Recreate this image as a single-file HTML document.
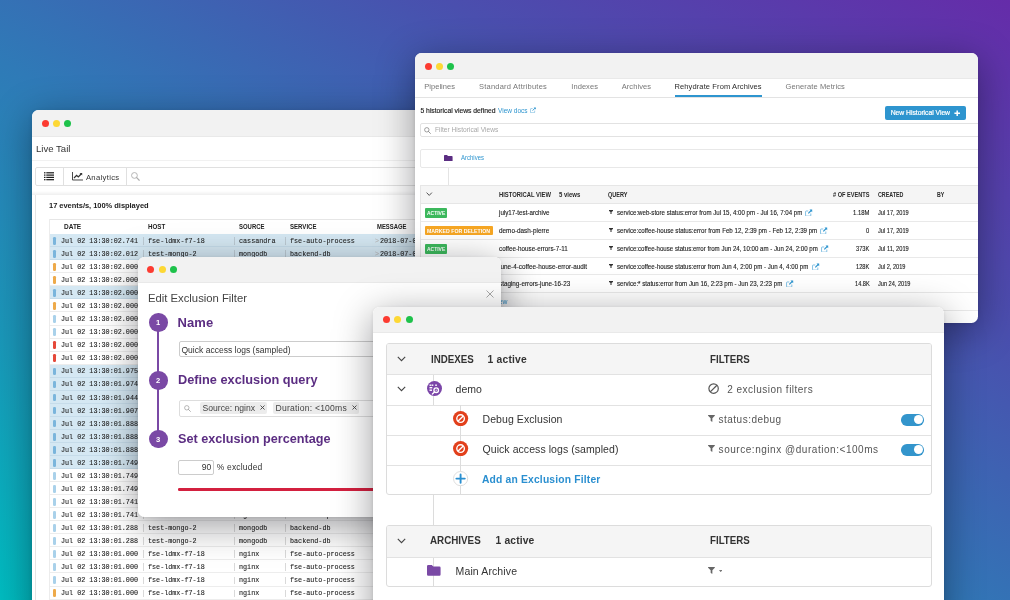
<!DOCTYPE html>
<html>
<head>
<meta charset="utf-8">
<title>Log management</title>
<style>
*{box-sizing:border-box;margin:0;padding:0}
html,body{width:1010px;height:600px;overflow:hidden}
body{font-family:"Liberation Sans",sans-serif;position:relative;
background:linear-gradient(to top right,#00bcc0 0%,#1a97b9 22%,#2f7ab7 45%,#4a4fae 72%,#652ca9 100%);}
.win{position:absolute;background:#fff;border-radius:6.5px;overflow:hidden;will-change:transform}
.sh{position:absolute;border-radius:7px;box-shadow:0 8px 38px rgba(0,0,10,.40),0 1px 4px rgba(0,0,10,.10)}
.tb{position:absolute;left:0;top:0;right:0;background:#f2f2f2;border-bottom:1px solid #e9e9e9}
.dot{position:absolute;width:7px;height:7px;border-radius:50%}
.r{background:#fc3b31}.y{background:#fdd835}.g{background:#1ec24b}
.t{position:absolute;white-space:pre;line-height:1}
.b{font-weight:bold}
.abs{position:absolute}
.mono{font-family:"Liberation Mono",monospace}
</style>
</head>
<body>

<div class="sh" style="left:32px;top:110px;width:560px;height:520px;"></div>
<div class="win" id="w1" style="left:32px;top:110px;width:560px;height:520px">
<div class="tb" style="height:27px"></div>
<div class="dot r" style="left:9.5px;top:10px"></div>
<div class="dot y" style="left:20.9px;top:10px"></div>
<div class="dot g" style="left:32.1px;top:10px"></div>
<span class="t" style="left:3.6px;top:33.7px;font-size:9.8px;color:#333;transform:scaleX(0.9768);transform-origin:0 0;">Live Tail</span>
<div class="abs" style="left:0px;top:50px;width:560px;height:1px;background:#f1f1f1"></div>
<div class="abs" style="left:3px;top:57px;width:560px;height:19px;border:1px solid #e0e0e0;border-radius:2px;background:#fff"></div>
<div class="abs" style="left:31px;top:58px;width:1px;height:17px;background:#e0e0e0"></div>
<div class="abs" style="left:94px;top:58px;width:1px;height:17px;background:#e0e0e0"></div>
<svg class="abs" style="left:11.5px;top:62px;" width="10.2" height="8.8" viewBox="0 0 10.2 8.8"><rect x="0" y="0.20000000000000007" width="1.5" height="1.2" fill="#1a1a1a"/><rect x="2.3" y="0.20000000000000007" width="7.9" height="1.2" fill="#1a1a1a"/><rect x="0" y="2.5" width="1.5" height="1.2" fill="#1a1a1a"/><rect x="2.3" y="2.5" width="7.9" height="1.2" fill="#1a1a1a"/><rect x="0" y="4.800000000000001" width="1.5" height="1.2" fill="#1a1a1a"/><rect x="2.3" y="4.800000000000001" width="7.9" height="1.2" fill="#1a1a1a"/><rect x="0" y="7.1000000000000005" width="1.5" height="1.2" fill="#1a1a1a"/><rect x="2.3" y="7.1000000000000005" width="7.9" height="1.2" fill="#1a1a1a"/></svg>
<svg class="abs" style="left:40px;top:62.2px;" width="11.2" height="8.6" viewBox="0 0 11.2 8.6"><path d="M0.5 0 V8 H11" fill="none" stroke="#333" stroke-width="0.9"/><path d="M2 6 L4.6 3.4 L6.3 5 L9.2 2" fill="none" stroke="#333" stroke-width="1.2"/><path d="M7.6 1 H10.2 V3.6 Z" fill="#333"/></svg>
<span class="t" style="left:53.9px;top:64.18px;font-size:7.7px;color:#333;letter-spacing:0.315px;">Analytics</span>
<svg class="abs" style="left:99.2px;top:62.4px;" width="8.9" height="8.9" viewBox="0 0 8 8"><circle cx="3.1" cy="3.1" r="2.6" fill="none" stroke="#adadad" stroke-width="0.8"/><path d="M5.1 5.1 L7.4 7.4" stroke="#adadad" stroke-width="1.1" stroke-linecap="round"/></svg>
<div class="abs" style="left:0px;top:81px;width:560px;height:4px;background:linear-gradient(to bottom,#fff,#efefef)"></div>
<div class="abs" style="left:3px;top:85px;width:1px;height:420px;background:#e4e4e4"></div>
<span class="t b" style="left:17px;top:92.25px;font-size:7.5px;color:#222;letter-spacing:-0.033px;">17 events/s, 100% displayed</span>
<div class="abs" style="left:17px;top:109px;width:560px;height:1px;background:#e6e6e6"></div>
<div class="abs" style="left:17px;top:109px;width:1px;height:400px;background:#ececec"></div>
<span class="t b" style="left:32.4px;top:113.53px;font-size:6.7px;color:#222;transform:scaleX(0.9707);transform-origin:0 0;">DATE</span>
<span class="t b" style="left:116.4px;top:113.53px;font-size:6.7px;color:#222;transform:scaleX(0.9258);transform-origin:0 0;">HOST</span>
<span class="t b" style="left:207px;top:113.53px;font-size:6.7px;color:#222;transform:scaleX(0.8908);transform-origin:0 0;">SOURCE</span>
<span class="t b" style="left:257.5px;top:113.53px;font-size:6.7px;color:#222;transform:scaleX(0.906);transform-origin:0 0;">SERVICE</span>
<span class="t b" style="left:344.5px;top:113.53px;font-size:6.7px;color:#222;transform:scaleX(0.8818);transform-origin:0 0;">MESSAGE</span>
<div class="abs" style="left:18px;top:124.2px;width:560px;height:13px;background:#d5e8f3;border-bottom:1px solid #c6dcea"></div>
<div class="abs" style="left:21.2px;top:127px;width:2.7px;height:7.8px;background:#7ab5dc;border-radius:1.3px"></div>
<span class="t mono" style="left:29px;top:127.61px;font-size:6.9px;color:#222;transform:scaleX(0.98);transform-origin:0 0;-webkit-text-stroke:0.1px #222;">Jul 02 13:30:02.741</span>
<div class="abs" style="left:111px;top:127.2px;width:0.8px;height:7.5px;background:#bccad3"></div>
<div class="abs" style="left:201.7px;top:127.2px;width:0.8px;height:7.5px;background:#bccad3"></div>
<div class="abs" style="left:252.5px;top:127.2px;width:0.8px;height:7.5px;background:#bccad3"></div>
<span class="t mono" style="left:116.4px;top:127.61px;font-size:6.9px;color:#222;transform:scaleX(0.9799);transform-origin:0 0;-webkit-text-stroke:0.1px #222;">fse-ldmx-f7-18</span>
<span class="t mono" style="left:207px;top:127.61px;font-size:6.9px;color:#222;transform:scaleX(0.9801);transform-origin:0 0;-webkit-text-stroke:0.1px #222;">cassandra</span>
<span class="t mono" style="left:257.5px;top:127.61px;font-size:6.9px;color:#222;transform:scaleX(0.98);transform-origin:0 0;-webkit-text-stroke:0.1px #222;">fse-auto-process</span>
<span class="t mono" style="left:343.2px;top:127.61px;font-size:6.9px;color:#b8b8b8;transform:scaleX(0.9788);transform-origin:0 0;-webkit-text-stroke:0.1px #b8b8b8;">&gt;</span>
<span class="t mono" style="left:348.4px;top:127.61px;font-size:6.9px;color:#222;transform:scaleX(0.9799);transform-origin:0 0;-webkit-text-stroke:0.1px #222;">2018-07-02</span>
<div class="abs" style="left:18px;top:137.25px;width:560px;height:13px;background:#d5e8f3;border-bottom:1px solid #c6dcea"></div>
<div class="abs" style="left:21.2px;top:140.05px;width:2.7px;height:7.8px;background:#7ab5dc;border-radius:1.3px"></div>
<span class="t mono" style="left:29px;top:140.66px;font-size:6.9px;color:#222;transform:scaleX(0.98);transform-origin:0 0;-webkit-text-stroke:0.1px #222;">Jul 02 13:30:02.012</span>
<div class="abs" style="left:111px;top:140.25px;width:0.8px;height:7.5px;background:#bccad3"></div>
<div class="abs" style="left:201.7px;top:140.25px;width:0.8px;height:7.5px;background:#bccad3"></div>
<div class="abs" style="left:252.5px;top:140.25px;width:0.8px;height:7.5px;background:#bccad3"></div>
<span class="t mono" style="left:116.4px;top:140.66px;font-size:6.9px;color:#222;transform:scaleX(0.9801);transform-origin:0 0;-webkit-text-stroke:0.1px #222;">test-mongo-2</span>
<span class="t mono" style="left:207px;top:140.66px;font-size:6.9px;color:#222;transform:scaleX(0.9799);transform-origin:0 0;-webkit-text-stroke:0.1px #222;">mongodb</span>
<span class="t mono" style="left:257.5px;top:140.66px;font-size:6.9px;color:#222;transform:scaleX(0.9799);transform-origin:0 0;-webkit-text-stroke:0.1px #222;">backend-db</span>
<span class="t mono" style="left:343.2px;top:140.66px;font-size:6.9px;color:#b8b8b8;transform:scaleX(0.9788);transform-origin:0 0;-webkit-text-stroke:0.1px #b8b8b8;">&gt;</span>
<span class="t mono" style="left:348.4px;top:140.66px;font-size:6.9px;color:#222;transform:scaleX(0.9799);transform-origin:0 0;-webkit-text-stroke:0.1px #222;">2018-07-02</span>
<div class="abs" style="left:18px;top:162.3px;width:560px;height:1px;background:#ededed"></div>
<div class="abs" style="left:21.2px;top:153.1px;width:2.7px;height:7.8px;background:#eeaa4a;border-radius:1.3px"></div>
<span class="t mono" style="left:29px;top:153.71px;font-size:6.9px;color:#222;transform:scaleX(0.98);transform-origin:0 0;-webkit-text-stroke:0.1px #222;">Jul 02 13:30:02.000</span>
<div class="abs" style="left:111px;top:153.3px;width:0.8px;height:7.5px;background:#d9d9d9"></div>
<div class="abs" style="left:201.7px;top:153.3px;width:0.8px;height:7.5px;background:#d9d9d9"></div>
<div class="abs" style="left:252.5px;top:153.3px;width:0.8px;height:7.5px;background:#d9d9d9"></div>
<span class="t mono" style="left:116.4px;top:153.71px;font-size:6.9px;color:#222;transform:scaleX(0.9799);transform-origin:0 0;-webkit-text-stroke:0.1px #222;">fse-ldmx-f7-18</span>
<span class="t mono" style="left:207px;top:153.71px;font-size:6.9px;color:#222;transform:scaleX(0.9796);transform-origin:0 0;-webkit-text-stroke:0.1px #222;">nginx</span>
<span class="t mono" style="left:257.5px;top:153.71px;font-size:6.9px;color:#222;transform:scaleX(0.98);transform-origin:0 0;-webkit-text-stroke:0.1px #222;">fse-auto-process</span>
<span class="t mono" style="left:343.2px;top:153.71px;font-size:6.9px;color:#b8b8b8;transform:scaleX(0.9788);transform-origin:0 0;-webkit-text-stroke:0.1px #b8b8b8;">&gt;</span>
<span class="t mono" style="left:348.4px;top:153.71px;font-size:6.9px;color:#222;transform:scaleX(0.9799);transform-origin:0 0;-webkit-text-stroke:0.1px #222;">2018-07-02</span>
<div class="abs" style="left:18px;top:175.35px;width:560px;height:1px;background:#ededed"></div>
<div class="abs" style="left:21.2px;top:166.15px;width:2.7px;height:7.8px;background:#eeaa4a;border-radius:1.3px"></div>
<span class="t mono" style="left:29px;top:166.76px;font-size:6.9px;color:#222;transform:scaleX(0.98);transform-origin:0 0;-webkit-text-stroke:0.1px #222;">Jul 02 13:30:02.000</span>
<div class="abs" style="left:111px;top:166.35px;width:0.8px;height:7.5px;background:#d9d9d9"></div>
<div class="abs" style="left:201.7px;top:166.35px;width:0.8px;height:7.5px;background:#d9d9d9"></div>
<div class="abs" style="left:252.5px;top:166.35px;width:0.8px;height:7.5px;background:#d9d9d9"></div>
<span class="t mono" style="left:116.4px;top:166.76px;font-size:6.9px;color:#222;transform:scaleX(0.9799);transform-origin:0 0;-webkit-text-stroke:0.1px #222;">fse-ldmx-f7-18</span>
<span class="t mono" style="left:207px;top:166.76px;font-size:6.9px;color:#222;transform:scaleX(0.9796);transform-origin:0 0;-webkit-text-stroke:0.1px #222;">nginx</span>
<span class="t mono" style="left:257.5px;top:166.76px;font-size:6.9px;color:#222;transform:scaleX(0.98);transform-origin:0 0;-webkit-text-stroke:0.1px #222;">fse-auto-process</span>
<div class="abs" style="left:18px;top:176.4px;width:560px;height:13px;background:#d5e8f3;border-bottom:1px solid #c6dcea"></div>
<div class="abs" style="left:21.2px;top:179.2px;width:2.7px;height:7.8px;background:#7ab5dc;border-radius:1.3px"></div>
<span class="t mono" style="left:29px;top:179.81px;font-size:6.9px;color:#222;transform:scaleX(0.98);transform-origin:0 0;-webkit-text-stroke:0.1px #222;">Jul 02 13:30:02.000</span>
<div class="abs" style="left:111px;top:179.4px;width:0.8px;height:7.5px;background:#bccad3"></div>
<div class="abs" style="left:201.7px;top:179.4px;width:0.8px;height:7.5px;background:#bccad3"></div>
<div class="abs" style="left:252.5px;top:179.4px;width:0.8px;height:7.5px;background:#bccad3"></div>
<span class="t mono" style="left:116.4px;top:179.81px;font-size:6.9px;color:#222;transform:scaleX(0.9799);transform-origin:0 0;-webkit-text-stroke:0.1px #222;">fse-ldmx-f7-18</span>
<span class="t mono" style="left:207px;top:179.81px;font-size:6.9px;color:#222;transform:scaleX(0.9796);transform-origin:0 0;-webkit-text-stroke:0.1px #222;">nginx</span>
<span class="t mono" style="left:257.5px;top:179.81px;font-size:6.9px;color:#222;transform:scaleX(0.98);transform-origin:0 0;-webkit-text-stroke:0.1px #222;">fse-auto-process</span>
<div class="abs" style="left:18px;top:201.45px;width:560px;height:1px;background:#ededed"></div>
<div class="abs" style="left:21.2px;top:192.25px;width:2.7px;height:7.8px;background:#eeaa4a;border-radius:1.3px"></div>
<span class="t mono" style="left:29px;top:192.86px;font-size:6.9px;color:#222;transform:scaleX(0.98);transform-origin:0 0;-webkit-text-stroke:0.1px #222;">Jul 02 13:30:02.000</span>
<div class="abs" style="left:111px;top:192.45px;width:0.8px;height:7.5px;background:#d9d9d9"></div>
<div class="abs" style="left:201.7px;top:192.45px;width:0.8px;height:7.5px;background:#d9d9d9"></div>
<div class="abs" style="left:252.5px;top:192.45px;width:0.8px;height:7.5px;background:#d9d9d9"></div>
<span class="t mono" style="left:116.4px;top:192.86px;font-size:6.9px;color:#222;transform:scaleX(0.9799);transform-origin:0 0;-webkit-text-stroke:0.1px #222;">fse-ldmx-f7-18</span>
<span class="t mono" style="left:207px;top:192.86px;font-size:6.9px;color:#222;transform:scaleX(0.9796);transform-origin:0 0;-webkit-text-stroke:0.1px #222;">nginx</span>
<span class="t mono" style="left:257.5px;top:192.86px;font-size:6.9px;color:#222;transform:scaleX(0.98);transform-origin:0 0;-webkit-text-stroke:0.1px #222;">fse-auto-process</span>
<div class="abs" style="left:18px;top:214.5px;width:560px;height:1px;background:#ededed"></div>
<div class="abs" style="left:21.2px;top:205.3px;width:2.7px;height:7.8px;background:#a9d1ea;border-radius:1.3px"></div>
<span class="t mono" style="left:29px;top:205.91px;font-size:6.9px;color:#222;transform:scaleX(0.98);transform-origin:0 0;-webkit-text-stroke:0.1px #222;">Jul 02 13:30:02.000</span>
<div class="abs" style="left:111px;top:205.5px;width:0.8px;height:7.5px;background:#d9d9d9"></div>
<div class="abs" style="left:201.7px;top:205.5px;width:0.8px;height:7.5px;background:#d9d9d9"></div>
<div class="abs" style="left:252.5px;top:205.5px;width:0.8px;height:7.5px;background:#d9d9d9"></div>
<span class="t mono" style="left:116.4px;top:205.91px;font-size:6.9px;color:#222;transform:scaleX(0.9799);transform-origin:0 0;-webkit-text-stroke:0.1px #222;">fse-ldmx-f7-18</span>
<span class="t mono" style="left:207px;top:205.91px;font-size:6.9px;color:#222;transform:scaleX(0.9796);transform-origin:0 0;-webkit-text-stroke:0.1px #222;">nginx</span>
<span class="t mono" style="left:257.5px;top:205.91px;font-size:6.9px;color:#222;transform:scaleX(0.98);transform-origin:0 0;-webkit-text-stroke:0.1px #222;">fse-auto-process</span>
<div class="abs" style="left:18px;top:227.55px;width:560px;height:1px;background:#ededed"></div>
<div class="abs" style="left:21.2px;top:218.35px;width:2.7px;height:7.8px;background:#a9d1ea;border-radius:1.3px"></div>
<span class="t mono" style="left:29px;top:218.96px;font-size:6.9px;color:#222;transform:scaleX(0.98);transform-origin:0 0;-webkit-text-stroke:0.1px #222;">Jul 02 13:30:02.000</span>
<div class="abs" style="left:111px;top:218.55px;width:0.8px;height:7.5px;background:#d9d9d9"></div>
<div class="abs" style="left:201.7px;top:218.55px;width:0.8px;height:7.5px;background:#d9d9d9"></div>
<div class="abs" style="left:252.5px;top:218.55px;width:0.8px;height:7.5px;background:#d9d9d9"></div>
<span class="t mono" style="left:116.4px;top:218.96px;font-size:6.9px;color:#222;transform:scaleX(0.9799);transform-origin:0 0;-webkit-text-stroke:0.1px #222;">fse-ldmx-f7-18</span>
<span class="t mono" style="left:207px;top:218.96px;font-size:6.9px;color:#222;transform:scaleX(0.9796);transform-origin:0 0;-webkit-text-stroke:0.1px #222;">nginx</span>
<span class="t mono" style="left:257.5px;top:218.96px;font-size:6.9px;color:#222;transform:scaleX(0.98);transform-origin:0 0;-webkit-text-stroke:0.1px #222;">fse-auto-process</span>
<div class="abs" style="left:18px;top:240.6px;width:560px;height:1px;background:#ededed"></div>
<div class="abs" style="left:21.2px;top:231.4px;width:2.7px;height:7.8px;background:#e5493a;border-radius:1.3px"></div>
<span class="t mono" style="left:29px;top:232.01px;font-size:6.9px;color:#222;transform:scaleX(0.98);transform-origin:0 0;-webkit-text-stroke:0.1px #222;">Jul 02 13:30:02.000</span>
<div class="abs" style="left:111px;top:231.6px;width:0.8px;height:7.5px;background:#d9d9d9"></div>
<div class="abs" style="left:201.7px;top:231.6px;width:0.8px;height:7.5px;background:#d9d9d9"></div>
<div class="abs" style="left:252.5px;top:231.6px;width:0.8px;height:7.5px;background:#d9d9d9"></div>
<span class="t mono" style="left:116.4px;top:232.01px;font-size:6.9px;color:#222;transform:scaleX(0.9799);transform-origin:0 0;-webkit-text-stroke:0.1px #222;">fse-ldmx-f7-18</span>
<span class="t mono" style="left:207px;top:232.01px;font-size:6.9px;color:#222;transform:scaleX(0.9796);transform-origin:0 0;-webkit-text-stroke:0.1px #222;">nginx</span>
<span class="t mono" style="left:257.5px;top:232.01px;font-size:6.9px;color:#222;transform:scaleX(0.98);transform-origin:0 0;-webkit-text-stroke:0.1px #222;">fse-auto-process</span>
<div class="abs" style="left:18px;top:253.65px;width:560px;height:1px;background:#ededed"></div>
<div class="abs" style="left:21.2px;top:244.45px;width:2.7px;height:7.8px;background:#e5493a;border-radius:1.3px"></div>
<span class="t mono" style="left:29px;top:245.06px;font-size:6.9px;color:#222;transform:scaleX(0.98);transform-origin:0 0;-webkit-text-stroke:0.1px #222;">Jul 02 13:30:02.000</span>
<div class="abs" style="left:111px;top:244.65px;width:0.8px;height:7.5px;background:#d9d9d9"></div>
<div class="abs" style="left:201.7px;top:244.65px;width:0.8px;height:7.5px;background:#d9d9d9"></div>
<div class="abs" style="left:252.5px;top:244.65px;width:0.8px;height:7.5px;background:#d9d9d9"></div>
<span class="t mono" style="left:116.4px;top:245.06px;font-size:6.9px;color:#222;transform:scaleX(0.9799);transform-origin:0 0;-webkit-text-stroke:0.1px #222;">fse-ldmx-f7-18</span>
<span class="t mono" style="left:207px;top:245.06px;font-size:6.9px;color:#222;transform:scaleX(0.9796);transform-origin:0 0;-webkit-text-stroke:0.1px #222;">nginx</span>
<span class="t mono" style="left:257.5px;top:245.06px;font-size:6.9px;color:#222;transform:scaleX(0.98);transform-origin:0 0;-webkit-text-stroke:0.1px #222;">fse-auto-process</span>
<div class="abs" style="left:18px;top:254.7px;width:560px;height:13px;background:#d5e8f3;border-bottom:1px solid #c6dcea"></div>
<div class="abs" style="left:21.2px;top:257.5px;width:2.7px;height:7.8px;background:#7ab5dc;border-radius:1.3px"></div>
<span class="t mono" style="left:29px;top:258.11px;font-size:6.9px;color:#222;transform:scaleX(0.98);transform-origin:0 0;-webkit-text-stroke:0.1px #222;">Jul 02 13:30:01.975</span>
<div class="abs" style="left:111px;top:257.7px;width:0.8px;height:7.5px;background:#bccad3"></div>
<div class="abs" style="left:201.7px;top:257.7px;width:0.8px;height:7.5px;background:#bccad3"></div>
<div class="abs" style="left:252.5px;top:257.7px;width:0.8px;height:7.5px;background:#bccad3"></div>
<span class="t mono" style="left:116.4px;top:258.11px;font-size:6.9px;color:#222;transform:scaleX(0.9799);transform-origin:0 0;-webkit-text-stroke:0.1px #222;">fse-ldmx-f7-18</span>
<span class="t mono" style="left:207px;top:258.11px;font-size:6.9px;color:#222;transform:scaleX(0.9796);transform-origin:0 0;-webkit-text-stroke:0.1px #222;">nginx</span>
<span class="t mono" style="left:257.5px;top:258.11px;font-size:6.9px;color:#222;transform:scaleX(0.98);transform-origin:0 0;-webkit-text-stroke:0.1px #222;">fse-auto-process</span>
<div class="abs" style="left:18px;top:267.75px;width:560px;height:13px;background:#d5e8f3;border-bottom:1px solid #c6dcea"></div>
<div class="abs" style="left:21.2px;top:270.55px;width:2.7px;height:7.8px;background:#7ab5dc;border-radius:1.3px"></div>
<span class="t mono" style="left:29px;top:271.16px;font-size:6.9px;color:#222;transform:scaleX(0.98);transform-origin:0 0;-webkit-text-stroke:0.1px #222;">Jul 02 13:30:01.974</span>
<div class="abs" style="left:111px;top:270.75px;width:0.8px;height:7.5px;background:#bccad3"></div>
<div class="abs" style="left:201.7px;top:270.75px;width:0.8px;height:7.5px;background:#bccad3"></div>
<div class="abs" style="left:252.5px;top:270.75px;width:0.8px;height:7.5px;background:#bccad3"></div>
<span class="t mono" style="left:116.4px;top:271.16px;font-size:6.9px;color:#222;transform:scaleX(0.9799);transform-origin:0 0;-webkit-text-stroke:0.1px #222;">fse-ldmx-f7-18</span>
<span class="t mono" style="left:207px;top:271.16px;font-size:6.9px;color:#222;transform:scaleX(0.9796);transform-origin:0 0;-webkit-text-stroke:0.1px #222;">nginx</span>
<span class="t mono" style="left:257.5px;top:271.16px;font-size:6.9px;color:#222;transform:scaleX(0.98);transform-origin:0 0;-webkit-text-stroke:0.1px #222;">fse-auto-process</span>
<div class="abs" style="left:18px;top:280.8px;width:560px;height:13px;background:#d5e8f3;border-bottom:1px solid #c6dcea"></div>
<div class="abs" style="left:21.2px;top:283.6px;width:2.7px;height:7.8px;background:#7ab5dc;border-radius:1.3px"></div>
<span class="t mono" style="left:29px;top:285.21px;font-size:6.9px;color:#222;transform:scaleX(0.98);transform-origin:0 0;-webkit-text-stroke:0.1px #222;">Jul 02 13:30:01.944</span>
<div class="abs" style="left:111px;top:283.8px;width:0.8px;height:7.5px;background:#bccad3"></div>
<div class="abs" style="left:201.7px;top:283.8px;width:0.8px;height:7.5px;background:#bccad3"></div>
<div class="abs" style="left:252.5px;top:283.8px;width:0.8px;height:7.5px;background:#bccad3"></div>
<span class="t mono" style="left:116.4px;top:285.21px;font-size:6.9px;color:#222;transform:scaleX(0.9799);transform-origin:0 0;-webkit-text-stroke:0.1px #222;">fse-ldmx-f7-18</span>
<span class="t mono" style="left:207px;top:285.21px;font-size:6.9px;color:#222;transform:scaleX(0.9796);transform-origin:0 0;-webkit-text-stroke:0.1px #222;">nginx</span>
<span class="t mono" style="left:257.5px;top:285.21px;font-size:6.9px;color:#222;transform:scaleX(0.98);transform-origin:0 0;-webkit-text-stroke:0.1px #222;">fse-auto-process</span>
<div class="abs" style="left:18px;top:293.85px;width:560px;height:13px;background:#d5e8f3;border-bottom:1px solid #c6dcea"></div>
<div class="abs" style="left:21.2px;top:296.65px;width:2.7px;height:7.8px;background:#7ab5dc;border-radius:1.3px"></div>
<span class="t mono" style="left:29px;top:298.26px;font-size:6.9px;color:#222;transform:scaleX(0.98);transform-origin:0 0;-webkit-text-stroke:0.1px #222;">Jul 02 13:30:01.907</span>
<div class="abs" style="left:111px;top:296.85px;width:0.8px;height:7.5px;background:#bccad3"></div>
<div class="abs" style="left:201.7px;top:296.85px;width:0.8px;height:7.5px;background:#bccad3"></div>
<div class="abs" style="left:252.5px;top:296.85px;width:0.8px;height:7.5px;background:#bccad3"></div>
<span class="t mono" style="left:116.4px;top:298.26px;font-size:6.9px;color:#222;transform:scaleX(0.9799);transform-origin:0 0;-webkit-text-stroke:0.1px #222;">fse-ldmx-f7-18</span>
<span class="t mono" style="left:207px;top:298.26px;font-size:6.9px;color:#222;transform:scaleX(0.9796);transform-origin:0 0;-webkit-text-stroke:0.1px #222;">nginx</span>
<span class="t mono" style="left:257.5px;top:298.26px;font-size:6.9px;color:#222;transform:scaleX(0.98);transform-origin:0 0;-webkit-text-stroke:0.1px #222;">fse-auto-process</span>
<div class="abs" style="left:18px;top:306.9px;width:560px;height:13px;background:#d5e8f3;border-bottom:1px solid #c6dcea"></div>
<div class="abs" style="left:21.2px;top:309.7px;width:2.7px;height:7.8px;background:#7ab5dc;border-radius:1.3px"></div>
<span class="t mono" style="left:29px;top:311.31px;font-size:6.9px;color:#222;transform:scaleX(0.98);transform-origin:0 0;-webkit-text-stroke:0.1px #222;">Jul 02 13:30:01.888</span>
<div class="abs" style="left:111px;top:309.9px;width:0.8px;height:7.5px;background:#bccad3"></div>
<div class="abs" style="left:201.7px;top:309.9px;width:0.8px;height:7.5px;background:#bccad3"></div>
<div class="abs" style="left:252.5px;top:309.9px;width:0.8px;height:7.5px;background:#bccad3"></div>
<span class="t mono" style="left:116.4px;top:311.31px;font-size:6.9px;color:#222;transform:scaleX(0.9799);transform-origin:0 0;-webkit-text-stroke:0.1px #222;">fse-ldmx-f7-18</span>
<span class="t mono" style="left:207px;top:311.31px;font-size:6.9px;color:#222;transform:scaleX(0.9796);transform-origin:0 0;-webkit-text-stroke:0.1px #222;">nginx</span>
<span class="t mono" style="left:257.5px;top:311.31px;font-size:6.9px;color:#222;transform:scaleX(0.98);transform-origin:0 0;-webkit-text-stroke:0.1px #222;">fse-auto-process</span>
<div class="abs" style="left:18px;top:319.95px;width:560px;height:13px;background:#d5e8f3;border-bottom:1px solid #c6dcea"></div>
<div class="abs" style="left:21.2px;top:322.75px;width:2.7px;height:7.8px;background:#7ab5dc;border-radius:1.3px"></div>
<span class="t mono" style="left:29px;top:324.36px;font-size:6.9px;color:#222;transform:scaleX(0.98);transform-origin:0 0;-webkit-text-stroke:0.1px #222;">Jul 02 13:30:01.888</span>
<div class="abs" style="left:111px;top:322.95px;width:0.8px;height:7.5px;background:#bccad3"></div>
<div class="abs" style="left:201.7px;top:322.95px;width:0.8px;height:7.5px;background:#bccad3"></div>
<div class="abs" style="left:252.5px;top:322.95px;width:0.8px;height:7.5px;background:#bccad3"></div>
<span class="t mono" style="left:116.4px;top:324.36px;font-size:6.9px;color:#222;transform:scaleX(0.9799);transform-origin:0 0;-webkit-text-stroke:0.1px #222;">fse-ldmx-f7-18</span>
<span class="t mono" style="left:207px;top:324.36px;font-size:6.9px;color:#222;transform:scaleX(0.9796);transform-origin:0 0;-webkit-text-stroke:0.1px #222;">nginx</span>
<span class="t mono" style="left:257.5px;top:324.36px;font-size:6.9px;color:#222;transform:scaleX(0.98);transform-origin:0 0;-webkit-text-stroke:0.1px #222;">fse-auto-process</span>
<div class="abs" style="left:18px;top:333px;width:560px;height:13px;background:#d5e8f3;border-bottom:1px solid #c6dcea"></div>
<div class="abs" style="left:21.2px;top:335.8px;width:2.7px;height:7.8px;background:#7ab5dc;border-radius:1.3px"></div>
<span class="t mono" style="left:29px;top:337.41px;font-size:6.9px;color:#222;transform:scaleX(0.98);transform-origin:0 0;-webkit-text-stroke:0.1px #222;">Jul 02 13:30:01.888</span>
<div class="abs" style="left:111px;top:336px;width:0.8px;height:7.5px;background:#bccad3"></div>
<div class="abs" style="left:201.7px;top:336px;width:0.8px;height:7.5px;background:#bccad3"></div>
<div class="abs" style="left:252.5px;top:336px;width:0.8px;height:7.5px;background:#bccad3"></div>
<span class="t mono" style="left:116.4px;top:337.41px;font-size:6.9px;color:#222;transform:scaleX(0.9799);transform-origin:0 0;-webkit-text-stroke:0.1px #222;">fse-ldmx-f7-18</span>
<span class="t mono" style="left:207px;top:337.41px;font-size:6.9px;color:#222;transform:scaleX(0.9796);transform-origin:0 0;-webkit-text-stroke:0.1px #222;">nginx</span>
<span class="t mono" style="left:257.5px;top:337.41px;font-size:6.9px;color:#222;transform:scaleX(0.98);transform-origin:0 0;-webkit-text-stroke:0.1px #222;">fse-auto-process</span>
<div class="abs" style="left:18px;top:346.05px;width:560px;height:13px;background:#d5e8f3;border-bottom:1px solid #c6dcea"></div>
<div class="abs" style="left:21.2px;top:348.85px;width:2.7px;height:7.8px;background:#7ab5dc;border-radius:1.3px"></div>
<span class="t mono" style="left:29px;top:350.46px;font-size:6.9px;color:#222;transform:scaleX(0.98);transform-origin:0 0;-webkit-text-stroke:0.1px #222;">Jul 02 13:30:01.749</span>
<div class="abs" style="left:111px;top:349.05px;width:0.8px;height:7.5px;background:#bccad3"></div>
<div class="abs" style="left:201.7px;top:349.05px;width:0.8px;height:7.5px;background:#bccad3"></div>
<div class="abs" style="left:252.5px;top:349.05px;width:0.8px;height:7.5px;background:#bccad3"></div>
<span class="t mono" style="left:116.4px;top:350.46px;font-size:6.9px;color:#222;transform:scaleX(0.9799);transform-origin:0 0;-webkit-text-stroke:0.1px #222;">fse-ldmx-f7-18</span>
<span class="t mono" style="left:207px;top:350.46px;font-size:6.9px;color:#222;transform:scaleX(0.9796);transform-origin:0 0;-webkit-text-stroke:0.1px #222;">nginx</span>
<span class="t mono" style="left:257.5px;top:350.46px;font-size:6.9px;color:#222;transform:scaleX(0.98);transform-origin:0 0;-webkit-text-stroke:0.1px #222;">fse-auto-process</span>
<div class="abs" style="left:18px;top:371.1px;width:560px;height:1px;background:#ededed"></div>
<div class="abs" style="left:21.2px;top:361.9px;width:2.7px;height:7.8px;background:#a9d1ea;border-radius:1.3px"></div>
<span class="t mono" style="left:29px;top:362.51px;font-size:6.9px;color:#222;transform:scaleX(0.98);transform-origin:0 0;-webkit-text-stroke:0.1px #222;">Jul 02 13:30:01.749</span>
<div class="abs" style="left:111px;top:362.1px;width:0.8px;height:7.5px;background:#d9d9d9"></div>
<div class="abs" style="left:201.7px;top:362.1px;width:0.8px;height:7.5px;background:#d9d9d9"></div>
<div class="abs" style="left:252.5px;top:362.1px;width:0.8px;height:7.5px;background:#d9d9d9"></div>
<span class="t mono" style="left:116.4px;top:362.51px;font-size:6.9px;color:#222;transform:scaleX(0.9799);transform-origin:0 0;-webkit-text-stroke:0.1px #222;">fse-ldmx-f7-18</span>
<span class="t mono" style="left:207px;top:362.51px;font-size:6.9px;color:#222;transform:scaleX(0.9796);transform-origin:0 0;-webkit-text-stroke:0.1px #222;">nginx</span>
<span class="t mono" style="left:257.5px;top:362.51px;font-size:6.9px;color:#222;transform:scaleX(0.98);transform-origin:0 0;-webkit-text-stroke:0.1px #222;">fse-auto-process</span>
<div class="abs" style="left:18px;top:384.15px;width:560px;height:1px;background:#ededed"></div>
<div class="abs" style="left:21.2px;top:374.95px;width:2.7px;height:7.8px;background:#a9d1ea;border-radius:1.3px"></div>
<span class="t mono" style="left:29px;top:375.56px;font-size:6.9px;color:#222;transform:scaleX(0.98);transform-origin:0 0;-webkit-text-stroke:0.1px #222;">Jul 02 13:30:01.749</span>
<div class="abs" style="left:111px;top:375.15px;width:0.8px;height:7.5px;background:#d9d9d9"></div>
<div class="abs" style="left:201.7px;top:375.15px;width:0.8px;height:7.5px;background:#d9d9d9"></div>
<div class="abs" style="left:252.5px;top:375.15px;width:0.8px;height:7.5px;background:#d9d9d9"></div>
<span class="t mono" style="left:116.4px;top:375.56px;font-size:6.9px;color:#222;transform:scaleX(0.9799);transform-origin:0 0;-webkit-text-stroke:0.1px #222;">fse-ldmx-f7-18</span>
<span class="t mono" style="left:207px;top:375.56px;font-size:6.9px;color:#222;transform:scaleX(0.9796);transform-origin:0 0;-webkit-text-stroke:0.1px #222;">nginx</span>
<span class="t mono" style="left:257.5px;top:375.56px;font-size:6.9px;color:#222;transform:scaleX(0.98);transform-origin:0 0;-webkit-text-stroke:0.1px #222;">fse-auto-process</span>
<div class="abs" style="left:18px;top:397.2px;width:560px;height:1px;background:#ededed"></div>
<div class="abs" style="left:21.2px;top:388px;width:2.7px;height:7.8px;background:#a9d1ea;border-radius:1.3px"></div>
<span class="t mono" style="left:29px;top:388.61px;font-size:6.9px;color:#222;transform:scaleX(0.98);transform-origin:0 0;-webkit-text-stroke:0.1px #222;">Jul 02 13:30:01.741</span>
<div class="abs" style="left:111px;top:388.2px;width:0.8px;height:7.5px;background:#d9d9d9"></div>
<div class="abs" style="left:201.7px;top:388.2px;width:0.8px;height:7.5px;background:#d9d9d9"></div>
<div class="abs" style="left:252.5px;top:388.2px;width:0.8px;height:7.5px;background:#d9d9d9"></div>
<span class="t mono" style="left:116.4px;top:388.61px;font-size:6.9px;color:#222;transform:scaleX(0.9799);transform-origin:0 0;-webkit-text-stroke:0.1px #222;">fse-ldmx-f7-18</span>
<span class="t mono" style="left:207px;top:388.61px;font-size:6.9px;color:#222;transform:scaleX(0.9796);transform-origin:0 0;-webkit-text-stroke:0.1px #222;">nginx</span>
<span class="t mono" style="left:257.5px;top:388.61px;font-size:6.9px;color:#222;transform:scaleX(0.98);transform-origin:0 0;-webkit-text-stroke:0.1px #222;">fse-auto-process</span>
<div class="abs" style="left:18px;top:410.25px;width:560px;height:1px;background:#ededed"></div>
<div class="abs" style="left:21.2px;top:401.05px;width:2.7px;height:7.8px;background:#a9d1ea;border-radius:1.3px"></div>
<span class="t mono" style="left:29px;top:401.66px;font-size:6.9px;color:#222;transform:scaleX(0.98);transform-origin:0 0;-webkit-text-stroke:0.1px #222;">Jul 02 13:30:01.741</span>
<div class="abs" style="left:111px;top:401.25px;width:0.8px;height:7.5px;background:#d9d9d9"></div>
<div class="abs" style="left:201.7px;top:401.25px;width:0.8px;height:7.5px;background:#d9d9d9"></div>
<div class="abs" style="left:252.5px;top:401.25px;width:0.8px;height:7.5px;background:#d9d9d9"></div>
<span class="t mono" style="left:116.4px;top:401.66px;font-size:6.9px;color:#222;transform:scaleX(0.9799);transform-origin:0 0;-webkit-text-stroke:0.1px #222;">fse-ldmx-f7-18</span>
<span class="t mono" style="left:207px;top:401.66px;font-size:6.9px;color:#222;transform:scaleX(0.9796);transform-origin:0 0;-webkit-text-stroke:0.1px #222;">nginx</span>
<span class="t mono" style="left:257.5px;top:401.66px;font-size:6.9px;color:#222;transform:scaleX(0.98);transform-origin:0 0;-webkit-text-stroke:0.1px #222;">fse-auto-process</span>
<div class="abs" style="left:18px;top:423.3px;width:560px;height:1px;background:#ededed"></div>
<div class="abs" style="left:21.2px;top:414.1px;width:2.7px;height:7.8px;background:#a9d1ea;border-radius:1.3px"></div>
<span class="t mono" style="left:29px;top:414.71px;font-size:6.9px;color:#222;transform:scaleX(0.98);transform-origin:0 0;-webkit-text-stroke:0.1px #222;">Jul 02 13:30:01.288</span>
<div class="abs" style="left:111px;top:414.3px;width:0.8px;height:7.5px;background:#d9d9d9"></div>
<div class="abs" style="left:201.7px;top:414.3px;width:0.8px;height:7.5px;background:#d9d9d9"></div>
<div class="abs" style="left:252.5px;top:414.3px;width:0.8px;height:7.5px;background:#d9d9d9"></div>
<span class="t mono" style="left:116.4px;top:414.71px;font-size:6.9px;color:#222;transform:scaleX(0.9801);transform-origin:0 0;-webkit-text-stroke:0.1px #222;">test-mongo-2</span>
<span class="t mono" style="left:207px;top:414.71px;font-size:6.9px;color:#222;transform:scaleX(0.9799);transform-origin:0 0;-webkit-text-stroke:0.1px #222;">mongodb</span>
<span class="t mono" style="left:257.5px;top:414.71px;font-size:6.9px;color:#222;transform:scaleX(0.9799);transform-origin:0 0;-webkit-text-stroke:0.1px #222;">backend-db</span>
<div class="abs" style="left:18px;top:436.35px;width:560px;height:1px;background:#ededed"></div>
<div class="abs" style="left:21.2px;top:427.15px;width:2.7px;height:7.8px;background:#a9d1ea;border-radius:1.3px"></div>
<span class="t mono" style="left:29px;top:427.76px;font-size:6.9px;color:#222;transform:scaleX(0.98);transform-origin:0 0;-webkit-text-stroke:0.1px #222;">Jul 02 13:30:01.288</span>
<div class="abs" style="left:111px;top:427.35px;width:0.8px;height:7.5px;background:#d9d9d9"></div>
<div class="abs" style="left:201.7px;top:427.35px;width:0.8px;height:7.5px;background:#d9d9d9"></div>
<div class="abs" style="left:252.5px;top:427.35px;width:0.8px;height:7.5px;background:#d9d9d9"></div>
<span class="t mono" style="left:116.4px;top:427.76px;font-size:6.9px;color:#222;transform:scaleX(0.9801);transform-origin:0 0;-webkit-text-stroke:0.1px #222;">test-mongo-2</span>
<span class="t mono" style="left:207px;top:427.76px;font-size:6.9px;color:#222;transform:scaleX(0.9799);transform-origin:0 0;-webkit-text-stroke:0.1px #222;">mongodb</span>
<span class="t mono" style="left:257.5px;top:427.76px;font-size:6.9px;color:#222;transform:scaleX(0.9799);transform-origin:0 0;-webkit-text-stroke:0.1px #222;">backend-db</span>
<div class="abs" style="left:18px;top:449.4px;width:560px;height:1px;background:#ededed"></div>
<div class="abs" style="left:21.2px;top:440.2px;width:2.7px;height:7.8px;background:#a9d1ea;border-radius:1.3px"></div>
<span class="t mono" style="left:29px;top:440.81px;font-size:6.9px;color:#222;transform:scaleX(0.98);transform-origin:0 0;-webkit-text-stroke:0.1px #222;">Jul 02 13:30:01.000</span>
<div class="abs" style="left:111px;top:440.4px;width:0.8px;height:7.5px;background:#d9d9d9"></div>
<div class="abs" style="left:201.7px;top:440.4px;width:0.8px;height:7.5px;background:#d9d9d9"></div>
<div class="abs" style="left:252.5px;top:440.4px;width:0.8px;height:7.5px;background:#d9d9d9"></div>
<span class="t mono" style="left:116.4px;top:440.81px;font-size:6.9px;color:#222;transform:scaleX(0.9799);transform-origin:0 0;-webkit-text-stroke:0.1px #222;">fse-ldmx-f7-18</span>
<span class="t mono" style="left:207px;top:440.81px;font-size:6.9px;color:#222;transform:scaleX(0.9796);transform-origin:0 0;-webkit-text-stroke:0.1px #222;">nginx</span>
<span class="t mono" style="left:257.5px;top:440.81px;font-size:6.9px;color:#222;transform:scaleX(0.98);transform-origin:0 0;-webkit-text-stroke:0.1px #222;">fse-auto-process</span>
<div class="abs" style="left:18px;top:462.45px;width:560px;height:1px;background:#ededed"></div>
<div class="abs" style="left:21.2px;top:453.25px;width:2.7px;height:7.8px;background:#a9d1ea;border-radius:1.3px"></div>
<span class="t mono" style="left:29px;top:453.86px;font-size:6.9px;color:#222;transform:scaleX(0.98);transform-origin:0 0;-webkit-text-stroke:0.1px #222;">Jul 02 13:30:01.000</span>
<div class="abs" style="left:111px;top:453.45px;width:0.8px;height:7.5px;background:#d9d9d9"></div>
<div class="abs" style="left:201.7px;top:453.45px;width:0.8px;height:7.5px;background:#d9d9d9"></div>
<div class="abs" style="left:252.5px;top:453.45px;width:0.8px;height:7.5px;background:#d9d9d9"></div>
<span class="t mono" style="left:116.4px;top:453.86px;font-size:6.9px;color:#222;transform:scaleX(0.9799);transform-origin:0 0;-webkit-text-stroke:0.1px #222;">fse-ldmx-f7-18</span>
<span class="t mono" style="left:207px;top:453.86px;font-size:6.9px;color:#222;transform:scaleX(0.9796);transform-origin:0 0;-webkit-text-stroke:0.1px #222;">nginx</span>
<span class="t mono" style="left:257.5px;top:453.86px;font-size:6.9px;color:#222;transform:scaleX(0.98);transform-origin:0 0;-webkit-text-stroke:0.1px #222;">fse-auto-process</span>
<div class="abs" style="left:18px;top:475.5px;width:560px;height:1px;background:#ededed"></div>
<div class="abs" style="left:21.2px;top:466.3px;width:2.7px;height:7.8px;background:#a9d1ea;border-radius:1.3px"></div>
<span class="t mono" style="left:29px;top:466.91px;font-size:6.9px;color:#222;transform:scaleX(0.98);transform-origin:0 0;-webkit-text-stroke:0.1px #222;">Jul 02 13:30:01.000</span>
<div class="abs" style="left:111px;top:466.5px;width:0.8px;height:7.5px;background:#d9d9d9"></div>
<div class="abs" style="left:201.7px;top:466.5px;width:0.8px;height:7.5px;background:#d9d9d9"></div>
<div class="abs" style="left:252.5px;top:466.5px;width:0.8px;height:7.5px;background:#d9d9d9"></div>
<span class="t mono" style="left:116.4px;top:466.91px;font-size:6.9px;color:#222;transform:scaleX(0.9799);transform-origin:0 0;-webkit-text-stroke:0.1px #222;">fse-ldmx-f7-18</span>
<span class="t mono" style="left:207px;top:466.91px;font-size:6.9px;color:#222;transform:scaleX(0.9796);transform-origin:0 0;-webkit-text-stroke:0.1px #222;">nginx</span>
<span class="t mono" style="left:257.5px;top:466.91px;font-size:6.9px;color:#222;transform:scaleX(0.98);transform-origin:0 0;-webkit-text-stroke:0.1px #222;">fse-auto-process</span>
<div class="abs" style="left:18px;top:488.55px;width:560px;height:1px;background:#ededed"></div>
<div class="abs" style="left:21.2px;top:479.35px;width:2.7px;height:7.8px;background:#eeaa4a;border-radius:1.3px"></div>
<span class="t mono" style="left:29px;top:479.96px;font-size:6.9px;color:#222;transform:scaleX(0.98);transform-origin:0 0;-webkit-text-stroke:0.1px #222;">Jul 02 13:30:01.000</span>
<div class="abs" style="left:111px;top:479.55px;width:0.8px;height:7.5px;background:#d9d9d9"></div>
<div class="abs" style="left:201.7px;top:479.55px;width:0.8px;height:7.5px;background:#d9d9d9"></div>
<div class="abs" style="left:252.5px;top:479.55px;width:0.8px;height:7.5px;background:#d9d9d9"></div>
<span class="t mono" style="left:116.4px;top:479.96px;font-size:6.9px;color:#222;transform:scaleX(0.9799);transform-origin:0 0;-webkit-text-stroke:0.1px #222;">fse-ldmx-f7-18</span>
<span class="t mono" style="left:207px;top:479.96px;font-size:6.9px;color:#222;transform:scaleX(0.9796);transform-origin:0 0;-webkit-text-stroke:0.1px #222;">nginx</span>
<span class="t mono" style="left:257.5px;top:479.96px;font-size:6.9px;color:#222;transform:scaleX(0.98);transform-origin:0 0;-webkit-text-stroke:0.1px #222;">fse-auto-process</span>
<div class="abs" style="left:18px;top:501.6px;width:560px;height:1px;background:#ededed"></div>
<div class="abs" style="left:21.2px;top:492.4px;width:2.7px;height:7.8px;background:#a9d1ea;border-radius:1.3px"></div>
<span class="t mono" style="left:29px;top:493.01px;font-size:6.9px;color:#222;transform:scaleX(0.98);transform-origin:0 0;-webkit-text-stroke:0.1px #222;">Jul 02 13:30:01.000</span>
<div class="abs" style="left:111px;top:492.6px;width:0.8px;height:7.5px;background:#d9d9d9"></div>
<div class="abs" style="left:201.7px;top:492.6px;width:0.8px;height:7.5px;background:#d9d9d9"></div>
<div class="abs" style="left:252.5px;top:492.6px;width:0.8px;height:7.5px;background:#d9d9d9"></div>
<span class="t mono" style="left:116.4px;top:493.01px;font-size:6.9px;color:#222;transform:scaleX(0.9799);transform-origin:0 0;-webkit-text-stroke:0.1px #222;">fse-ldmx-f7-18</span>
<span class="t mono" style="left:207px;top:493.01px;font-size:6.9px;color:#222;transform:scaleX(0.9796);transform-origin:0 0;-webkit-text-stroke:0.1px #222;">nginx</span>
<span class="t mono" style="left:257.5px;top:493.01px;font-size:6.9px;color:#222;transform:scaleX(0.98);transform-origin:0 0;-webkit-text-stroke:0.1px #222;">fse-auto-process</span>
</div>
<div class="sh" style="left:415px;top:53px;width:563px;height:269.5px;"></div>
<div class="win" id="w2" style="left:415px;top:53px;width:563px;height:269.5px">
<div class="tb" style="height:25.5px"></div>
<div class="dot r" style="left:9.5px;top:9.75px"></div>
<div class="dot y" style="left:20.75px;top:9.75px"></div>
<div class="dot g" style="left:32.25px;top:9.75px"></div>
<span class="t" style="left:9.25px;top:29.95px;font-size:7.5px;color:#777;letter-spacing:0.035px;">Pipelines</span>
<span class="t" style="left:64px;top:29.95px;font-size:7.5px;color:#777;letter-spacing:0.221px;">Standard Attributes</span>
<span class="t" style="left:156.25px;top:29.95px;font-size:7.5px;color:#777;letter-spacing:0.067px;">Indexes</span>
<span class="t" style="left:206.75px;top:29.95px;font-size:7.5px;color:#777;letter-spacing:0.061px;">Archives</span>
<span class="t" style="left:259.5px;top:29.95px;font-size:7.5px;color:#2b2b2b;letter-spacing:0.114px;">Rehydrate From Archives</span>
<span class="t" style="left:370.5px;top:29.95px;font-size:7.5px;color:#777;letter-spacing:0.123px;">Generate Metrics</span>
<div class="abs" style="left:0px;top:44.3px;width:563px;height:1px;background:#e3e3e3"></div>
<div class="abs" style="left:259.5px;top:42.2px;width:87.5px;height:2px;background:#2e95cf"></div>
<span class="t" style="left:5.5px;top:55.24px;font-size:6.8px;color:#1c1c1c;letter-spacing:-0.022px;-webkit-text-stroke:0.15px #1c1c1c;">5 historical views defined</span>
<span class="t" style="left:82.5px;top:55.24px;font-size:6.8px;color:#2e95cf;transform:scaleX(0.9559);transform-origin:0 0;">View docs</span>
<svg class="abs" style="left:115px;top:54px;" width="6.2" height="6.2" viewBox="0 0 7 7"><path d="M5.3 4.1 V5.8 Q5.3 6.5 4.6 6.5 H1.2 Q0.5 6.5 0.5 5.8 V2.5 Q0.5 1.8 1.2 1.8 H3" fill="none" stroke="#2e95cf" stroke-width="0.7" opacity="0.75"/><path d="M4.1 0.45 H6.55 V2.9 Z" fill="#2e95cf"/><path d="M5.9 1.1 L3 4" fill="none" stroke="#2e95cf" stroke-width="1.1"/></svg>
<div class="abs" style="left:470px;top:53px;width:80.75px;height:13.75px;background:#2e95cf;border-radius:2px"></div>
<span class="t" style="left:475.75px;top:56.64px;font-size:6.8px;color:#fff;letter-spacing:-0.036px;-webkit-text-stroke:0.2px #fff;">New Historical View</span>
<svg class="abs" style="left:538.6px;top:56.8px;" width="6.4" height="6.4" viewBox="0 0 6.4 6.4"><path d="M3.2 0.4 V6 M0.4 3.2 H6" stroke="#fff" stroke-width="1.5"/></svg>
<div class="abs" style="left:5px;top:70.25px;width:570px;height:13.5px;border:1px solid #e2e2e2;border-radius:2px"></div>
<svg class="abs" style="left:9.3px;top:73.6px;" width="7" height="7" viewBox="0 0 7 7"><circle cx="2.8" cy="2.8" r="2.2" fill="none" stroke="#888" stroke-width="0.8"/><path d="M4.4 4.4 L6.4 6.4" stroke="#888" stroke-width="0.9" stroke-linecap="round"/></svg>
<span class="t" style="left:20px;top:73.81px;font-size:6.6px;color:#a8a8a8;letter-spacing:0.015px;">Filter Historical Views</span>
<div class="abs" style="left:5px;top:95.75px;width:570px;height:18.75px;border:1px solid #e8e8e8;border-radius:2px"></div>
<svg class="abs" style="left:29.2px;top:101.6px;" width="8.9" height="6.7" viewBox="0 0 8.9 6.7"><path d="M0 0.8 Q0 0 0.8 0 H3 L4 1 H7.8 Q8.6 1 8.6 1.8 V5.8 Q8.6 6.6 7.8 6.6 H0.8 Q0 6.6 0 5.8 Z" fill="#5b2d82"/></svg>
<span class="t" style="left:46.25px;top:102.08px;font-size:6.4px;color:#2e95cf;transform:scaleX(0.9382);transform-origin:0 0;">Archives</span>
<div class="abs" style="left:33px;top:114.5px;width:1px;height:17.5px;background:#e4e4e4"></div>
<div class="abs" style="left:5px;top:132px;width:570px;height:19px;background:#f5f5f5;border:1px solid #e6e6e6;border-right:0"></div>
<svg class="abs" style="left:11px;top:139px;" width="6.5" height="4.5" viewBox="0 0 6.5 4.5"><path d="M0.6 0.6 L3.25 3.4 L5.9 0.6" fill="none" stroke="#444" stroke-width="0.9"/></svg>
<span class="t b" style="left:83.75px;top:138.68px;font-size:6.4px;color:#2a2a2a;transform:scaleX(0.9133);transform-origin:0 0;">HISTORICAL VIEW</span>
<span class="t b" style="left:143.75px;top:138.68px;font-size:6.4px;color:#2a2a2a;transform:scaleX(0.9341);transform-origin:0 0;">5 views</span>
<span class="t b" style="left:192.5px;top:138.68px;font-size:6.4px;color:#2a2a2a;transform:scaleX(0.8667);transform-origin:0 0;">QUERY</span>
<span class="t b" style="left:417.75px;top:138.68px;font-size:6.4px;color:#2a2a2a;transform:scaleX(0.8782);transform-origin:0 0;"># OF EVENTS</span>
<span class="t b" style="left:462.5px;top:138.68px;font-size:6.4px;color:#2a2a2a;transform:scaleX(0.8382);transform-origin:0 0;">CREATED</span>
<span class="t b" style="left:522px;top:138.68px;font-size:6.4px;color:#2a2a2a;transform:scaleX(0.8155);transform-origin:0 0;">BY</span>
<div class="abs" style="left:5px;top:168px;width:570px;height:1px;background:#e9e9e9"></div>
<div class="abs" style="left:9.5px;top:155px;width:22.5px;height:9.5px;background:#3cb85c;border-radius:1px"></div>
<span class="t b" style="left:11.75px;top:158.47px;font-size:5.7px;color:#fff;transform:scaleX(0.8749);transform-origin:0 0;">ACTIVE</span>
<span class="t" style="left:83.75px;top:157.14px;font-size:6.8px;color:#1c1c1c;transform:scaleX(0.9156);transform-origin:0 0;-webkit-text-stroke:0.12px #1c1c1c;">july17-test-archive</span>
<svg class="abs" style="left:193.6px;top:156.9px;" width="4" height="4" viewBox="0 0 6 6"><path d="M0 0 H6 V1.7 H0 Z M1 1.7 L2.2 3 V6.2 H3.8 V3 L5 1.7 Z" fill="#333"/></svg>
<span class="t" style="left:201.75px;top:157.14px;font-size:6.8px;color:#1c1c1c;transform:scaleX(0.9);transform-origin:0 0;-webkit-text-stroke:0.12px #1c1c1c;">service:web-store status:error from Jul 15, 4:00 pm - Jul 16, 7:04 pm</span>
<svg class="abs" style="left:390.1px;top:155.8px;" width="7.7" height="7.7" viewBox="0 0 7 7"><path d="M5.3 4.1 V5.8 Q5.3 6.5 4.6 6.5 H1.2 Q0.5 6.5 0.5 5.8 V2.5 Q0.5 1.8 1.2 1.8 H3" fill="none" stroke="#2e95cf" stroke-width="0.7" opacity="0.75"/><path d="M4.1 0.45 H6.55 V2.9 Z" fill="#2e95cf"/><path d="M5.9 1.1 L3 4" fill="none" stroke="#2e95cf" stroke-width="1.1"/></svg>
<span class="t" style="left:437.75px;top:157.14px;font-size:6.8px;color:#1c1c1c;transform:scaleX(0.8734);transform-origin:0 0;-webkit-text-stroke:0.12px #1c1c1c;">1.18M</span>
<span class="t" style="left:462.5px;top:157.14px;font-size:6.8px;color:#1c1c1c;transform:scaleX(0.83);transform-origin:0 0;-webkit-text-stroke:0.12px #1c1c1c;">Jul 17, 2019</span>
<div class="abs" style="left:5px;top:186px;width:570px;height:1px;background:#e9e9e9"></div>
<div class="abs" style="left:9.5px;top:172.8px;width:68.25px;height:9.6px;background:#f6a623;border-radius:1px"></div>
<span class="t b" style="left:12px;top:176.47px;font-size:5.7px;color:#fff;transform:scaleX(0.9145);transform-origin:0 0;">MARKED FOR DELETION</span>
<span class="t" style="left:83.75px;top:175.14px;font-size:6.8px;color:#1c1c1c;transform:scaleX(0.9365);transform-origin:0 0;-webkit-text-stroke:0.12px #1c1c1c;">demo-dash-pierre</span>
<svg class="abs" style="left:193.6px;top:174.9px;" width="4" height="4" viewBox="0 0 6 6"><path d="M0 0 H6 V1.7 H0 Z M1 1.7 L2.2 3 V6.2 H3.8 V3 L5 1.7 Z" fill="#333"/></svg>
<span class="t" style="left:201.75px;top:175.14px;font-size:6.8px;color:#1c1c1c;transform:scaleX(0.905);transform-origin:0 0;-webkit-text-stroke:0.12px #1c1c1c;">service:coffee-house status:error from Feb 12, 2:39 pm - Feb 12, 2:39 pm</span>
<svg class="abs" style="left:405.1px;top:173.8px;" width="7.7" height="7.7" viewBox="0 0 7 7"><path d="M5.3 4.1 V5.8 Q5.3 6.5 4.6 6.5 H1.2 Q0.5 6.5 0.5 5.8 V2.5 Q0.5 1.8 1.2 1.8 H3" fill="none" stroke="#2e95cf" stroke-width="0.7" opacity="0.75"/><path d="M4.1 0.45 H6.55 V2.9 Z" fill="#2e95cf"/><path d="M5.9 1.1 L3 4" fill="none" stroke="#2e95cf" stroke-width="1.1"/></svg>
<span class="t" style="left:451.05px;top:175.14px;font-size:6.8px;color:#1c1c1c;transform:scaleX(0.8463);transform-origin:0 0;-webkit-text-stroke:0.12px #1c1c1c;">0</span>
<span class="t" style="left:462.5px;top:175.14px;font-size:6.8px;color:#1c1c1c;transform:scaleX(0.83);transform-origin:0 0;-webkit-text-stroke:0.12px #1c1c1c;">Jul 17, 2019</span>
<div class="abs" style="left:5px;top:204px;width:570px;height:1px;background:#e9e9e9"></div>
<div class="abs" style="left:9.5px;top:191px;width:22.5px;height:9.5px;background:#3cb85c;border-radius:1px"></div>
<span class="t b" style="left:11.75px;top:194.47px;font-size:5.7px;color:#fff;transform:scaleX(0.8749);transform-origin:0 0;">ACTIVE</span>
<span class="t" style="left:83.75px;top:193.14px;font-size:6.8px;color:#1c1c1c;transform:scaleX(0.922);transform-origin:0 0;-webkit-text-stroke:0.12px #1c1c1c;">coffee-house-errors-7-11</span>
<svg class="abs" style="left:193.6px;top:192.9px;" width="4" height="4" viewBox="0 0 6 6"><path d="M0 0 H6 V1.7 H0 Z M1 1.7 L2.2 3 V6.2 H3.8 V3 L5 1.7 Z" fill="#333"/></svg>
<span class="t" style="left:201.75px;top:193.14px;font-size:6.8px;color:#1c1c1c;transform:scaleX(0.8981);transform-origin:0 0;-webkit-text-stroke:0.12px #1c1c1c;">service:coffee-house status:error from Jun 24, 10:00 am - Jun 24, 2:00 pm</span>
<svg class="abs" style="left:406.35px;top:191.8px;" width="7.7" height="7.7" viewBox="0 0 7 7"><path d="M5.3 4.1 V5.8 Q5.3 6.5 4.6 6.5 H1.2 Q0.5 6.5 0.5 5.8 V2.5 Q0.5 1.8 1.2 1.8 H3" fill="none" stroke="#2e95cf" stroke-width="0.7" opacity="0.75"/><path d="M4.1 0.45 H6.55 V2.9 Z" fill="#2e95cf"/><path d="M5.9 1.1 L3 4" fill="none" stroke="#2e95cf" stroke-width="1.1"/></svg>
<span class="t" style="left:441px;top:193.14px;font-size:6.8px;color:#1c1c1c;transform:scaleX(0.8346);transform-origin:0 0;-webkit-text-stroke:0.12px #1c1c1c;">373K</span>
<span class="t" style="left:462.5px;top:193.14px;font-size:6.8px;color:#1c1c1c;transform:scaleX(0.8417);transform-origin:0 0;-webkit-text-stroke:0.12px #1c1c1c;">Jul 11, 2019</span>
<div class="abs" style="left:5px;top:221px;width:570px;height:1px;background:#e9e9e9"></div>
<div class="abs" style="left:9.5px;top:209px;width:22.5px;height:9.5px;background:#3cb85c;border-radius:1px"></div>
<span class="t b" style="left:11.75px;top:212.47px;font-size:5.7px;color:#fff;transform:scaleX(0.8749);transform-origin:0 0;">ACTIVE</span>
<span class="t" style="left:83.75px;top:211.14px;font-size:6.8px;color:#1c1c1c;transform:scaleX(0.9366);transform-origin:0 0;-webkit-text-stroke:0.12px #1c1c1c;">june-4-coffee-house-error-audit</span>
<svg class="abs" style="left:193.6px;top:210.9px;" width="4" height="4" viewBox="0 0 6 6"><path d="M0 0 H6 V1.7 H0 Z M1 1.7 L2.2 3 V6.2 H3.8 V3 L5 1.7 Z" fill="#333"/></svg>
<span class="t" style="left:201.75px;top:211.14px;font-size:6.8px;color:#1c1c1c;transform:scaleX(0.9013);transform-origin:0 0;-webkit-text-stroke:0.12px #1c1c1c;">service:coffee-house status:error from Jun 4, 2:00 pm - Jun 4, 4:00 pm</span>
<svg class="abs" style="left:396.85px;top:209.8px;" width="7.7" height="7.7" viewBox="0 0 7 7"><path d="M5.3 4.1 V5.8 Q5.3 6.5 4.6 6.5 H1.2 Q0.5 6.5 0.5 5.8 V2.5 Q0.5 1.8 1.2 1.8 H3" fill="none" stroke="#2e95cf" stroke-width="0.7" opacity="0.75"/><path d="M4.1 0.45 H6.55 V2.9 Z" fill="#2e95cf"/><path d="M5.9 1.1 L3 4" fill="none" stroke="#2e95cf" stroke-width="1.1"/></svg>
<span class="t" style="left:441px;top:211.14px;font-size:6.8px;color:#1c1c1c;transform:scaleX(0.8346);transform-origin:0 0;-webkit-text-stroke:0.12px #1c1c1c;">128K</span>
<span class="t" style="left:462.5px;top:211.14px;font-size:6.8px;color:#1c1c1c;transform:scaleX(0.8267);transform-origin:0 0;-webkit-text-stroke:0.12px #1c1c1c;">Jul 2, 2019</span>
<div class="abs" style="left:5px;top:239px;width:570px;height:1px;background:#e9e9e9"></div>
<div class="abs" style="left:9.5px;top:226px;width:22.5px;height:9.5px;background:#3cb85c;border-radius:1px"></div>
<span class="t b" style="left:11.75px;top:229.47px;font-size:5.7px;color:#fff;transform:scaleX(0.8749);transform-origin:0 0;">ACTIVE</span>
<span class="t" style="left:83.75px;top:228.14px;font-size:6.8px;color:#1c1c1c;transform:scaleX(0.9289);transform-origin:0 0;-webkit-text-stroke:0.12px #1c1c1c;">staging-errors-june-16-23</span>
<svg class="abs" style="left:193.6px;top:227.9px;" width="4" height="4" viewBox="0 0 6 6"><path d="M0 0 H6 V1.7 H0 Z M1 1.7 L2.2 3 V6.2 H3.8 V3 L5 1.7 Z" fill="#333"/></svg>
<span class="t" style="left:201.75px;top:228.14px;font-size:6.8px;color:#1c1c1c;transform:scaleX(0.9019);transform-origin:0 0;-webkit-text-stroke:0.12px #1c1c1c;">service:* status:error from Jun 16, 2:23 pm - Jun 23, 2:23 pm</span>
<svg class="abs" style="left:370.85px;top:226.8px;" width="7.7" height="7.7" viewBox="0 0 7 7"><path d="M5.3 4.1 V5.8 Q5.3 6.5 4.6 6.5 H1.2 Q0.5 6.5 0.5 5.8 V2.5 Q0.5 1.8 1.2 1.8 H3" fill="none" stroke="#2e95cf" stroke-width="0.7" opacity="0.75"/><path d="M4.1 0.45 H6.55 V2.9 Z" fill="#2e95cf"/><path d="M5.9 1.1 L3 4" fill="none" stroke="#2e95cf" stroke-width="1.1"/></svg>
<span class="t" style="left:439.5px;top:228.14px;font-size:6.8px;color:#1c1c1c;transform:scaleX(0.8303);transform-origin:0 0;-webkit-text-stroke:0.12px #1c1c1c;">14.8K</span>
<span class="t" style="left:462.5px;top:228.14px;font-size:6.8px;color:#1c1c1c;transform:scaleX(0.8267);transform-origin:0 0;-webkit-text-stroke:0.12px #1c1c1c;">Jun 24, 2019</span>
<div class="abs" style="left:5px;top:257px;width:570px;height:1px;background:#e9e9e9"></div>
<div class="abs" style="left:5px;top:132.5px;width:1px;height:125px;background:#e6e6e6"></div>
<span class="t" style="left:26.7px;top:246.24px;font-size:6.8px;color:#2e95cf;">+ New Historical View</span>
</div>
<div class="sh" style="left:138px;top:257px;width:363px;height:260px;"></div>
<div class="win" id="w3" style="left:138px;top:257px;width:363px;height:260px">
<div class="tb" style="height:25.5px"></div>
<div class="dot r" style="left:9.25px;top:8.75px"></div>
<div class="dot y" style="left:20.5px;top:8.75px"></div>
<div class="dot g" style="left:32px;top:8.75px"></div>
<span class="t" style="left:10px;top:35.53px;font-size:11.3px;color:#444;letter-spacing:-0.01px;">Edit Exclusion Filter</span>
<svg class="abs" style="left:348px;top:32.75px;" width="8" height="8" viewBox="0 0 8 8"><path d="M0.5 0.5 L7.5 7.5 M7.5 0.5 L0.5 7.5" stroke="#999" stroke-width="0.85"/></svg>
<div class="abs" style="left:19.25px;top:65px;width:2px;height:117px;background:#7a49a5"></div>
<div class="abs" style="left:11px;top:56.15px;width:18.5px;height:18.5px;background:#7a49a5;border-radius:50%"></div>
<span class="t b" style="left:18.12px;top:61.67px;font-size:7.6px;color:#fff;">1</span>
<div class="abs" style="left:11px;top:114.15px;width:18.5px;height:18.5px;background:#7a49a5;border-radius:50%"></div>
<span class="t b" style="left:18.12px;top:119.67px;font-size:7.6px;color:#fff;">2</span>
<div class="abs" style="left:11px;top:172.75px;width:18.5px;height:18.5px;background:#7a49a5;border-radius:50%"></div>
<span class="t b" style="left:18.12px;top:179.27px;font-size:7.6px;color:#fff;">3</span>
<span class="t b" style="left:39.5px;top:59px;font-size:13px;color:#5b2d82;letter-spacing:0.082px;">Name</span>
<div class="abs" style="left:41px;top:84px;width:330px;height:16.3px;border:1px solid #ccc;border-radius:2px;background:#fff"></div>
<span class="t" style="left:43.5px;top:89.4px;font-size:8.5px;color:#333;letter-spacing:0.013px;">Quick access logs (sampled)</span>
<span class="t b" style="left:39.5px;top:116.2px;font-size:13px;color:#5b2d82;transform:scaleX(0.9801);transform-origin:0 0;">Define exclusion query</span>
<div class="abs" style="left:41px;top:142.5px;width:330px;height:17.25px;border:1px solid #ddd;border-radius:2px;background:#fff"></div>
<svg class="abs" style="left:46.2px;top:148px;" width="7" height="7" viewBox="0 0 7 7"><circle cx="2.8" cy="2.8" r="2.2" fill="none" stroke="#999" stroke-width="0.7"/><path d="M4.4 4.4 L6.4 6.4" stroke="#999" stroke-width="0.8" stroke-linecap="round"/></svg>
<div class="abs" style="left:61.5px;top:145px;width:67.25px;height:11.75px;background:#ececec;border-radius:2px"></div>
<span class="t" style="left:64.5px;top:147.32px;font-size:8.6px;color:#444;letter-spacing:-0.005px;">Source: nginx</span>
<svg class="abs" style="left:121.6px;top:148.3px;" width="5" height="5" viewBox="0 0 5 5"><path d="M0.5 0.5 L4.5 4.5 M4.5 0.5 L0.5 4.5" stroke="#444" stroke-width="0.9"/></svg>
<div class="abs" style="left:134.5px;top:145px;width:86.25px;height:11.75px;background:#ececec;border-radius:2px"></div>
<span class="t" style="left:137.5px;top:147.32px;font-size:8.6px;color:#444;letter-spacing:0.214px;">Duration: &lt;100ms</span>
<svg class="abs" style="left:213.7px;top:148.3px;" width="5" height="5" viewBox="0 0 5 5"><path d="M0.5 0.5 L4.5 4.5 M4.5 0.5 L0.5 4.5" stroke="#444" stroke-width="0.9"/></svg>
<span class="t b" style="left:39.5px;top:175.4px;font-size:13px;color:#5b2d82;transform:scaleX(0.9727);transform-origin:0 0;">Set exclusion percentage</span>
<div class="abs" style="left:39.5px;top:203px;width:36.25px;height:14.5px;border:1px solid #ccc;border-radius:2px;background:#fff"></div>
<span class="t" style="left:63.84px;top:205.82px;font-size:8.6px;color:#333;">90</span>
<span class="t" style="left:78.75px;top:205.9px;font-size:8.5px;color:#333;letter-spacing:0.18px;">% excluded</span>
<div class="abs" style="left:39.5px;top:231px;width:330px;height:2.6px;background:#d3203f;border-radius:1.3px"></div>
</div>
<div class="sh" style="left:373px;top:307px;width:570.7px;height:320px;"></div>
<div class="win" id="w4" style="left:373px;top:307px;width:570.7px;height:320px">
<div class="tb" style="height:25.5px"></div>
<div class="dot r" style="left:9.5px;top:9.25px"></div>
<div class="dot y" style="left:21px;top:9.25px"></div>
<div class="dot g" style="left:32.5px;top:9.25px"></div>
<div class="abs" style="left:60px;top:187px;width:1px;height:31px;background:#dcdcdc"></div>
<div class="abs" style="left:13.3px;top:36px;width:545.5px;height:152px;border:1px solid #dcdcdc;border-radius:3px;background:#fff"></div>
<div class="abs" style="left:14.3px;top:37px;width:543.5px;height:30.25px;background:#f5f5f5;border-radius:2px 2px 0 0"></div>
<div class="abs" style="left:14.3px;top:67.25px;width:543.5px;height:1px;background:#e2e2e2"></div>
<div class="abs" style="left:14.3px;top:97.5px;width:543.5px;height:1px;background:#e2e2e2"></div>
<div class="abs" style="left:14.3px;top:127.5px;width:543.5px;height:1px;background:#e2e2e2"></div>
<div class="abs" style="left:14.3px;top:158px;width:543.5px;height:1px;background:#e2e2e2"></div>
<div class="abs" style="left:60.3px;top:68px;width:1px;height:29.5px;background:#dcdcdc"></div>
<div class="abs" style="left:87px;top:98px;width:1.2px;height:89px;background:#dcdcdc"></div>
<svg class="abs" style="left:24.25px;top:49.2px;" width="9" height="6" viewBox="0 0 9 6"><path d="M0.8 0.9 L4.5 4.7 L8.2 0.9" fill="none" stroke="#444" stroke-width="1.1"/></svg>
<svg class="abs" style="left:24.25px;top:79.4px;" width="9" height="6" viewBox="0 0 9 6"><path d="M0.8 0.9 L4.5 4.7 L8.2 0.9" fill="none" stroke="#444" stroke-width="1.1"/></svg>
<span class="t b" style="left:57.5px;top:47.88px;font-size:10.3px;color:#333;transform:scaleX(0.9454);transform-origin:0 0;">INDEXES</span>
<span class="t b" style="left:114.5px;top:47.88px;font-size:10.3px;color:#333;letter-spacing:0.213px;">1 active</span>
<span class="t b" style="left:336.5px;top:47.88px;font-size:10.3px;color:#333;transform:scaleX(0.9445);transform-origin:0 0;">FILTERS</span>
<svg class="abs" style="left:53.8px;top:73.9px;" width="15" height="15" viewBox="0 0 15 15"><circle cx="7.5" cy="7.5" r="7.5" fill="#7b46a8"/><g fill="#fff"><rect x="2.5" y="3.5" width="1.7" height="1.4"/><rect x="4.6" y="3.5" width="1.7" height="1.4"/><rect x="8.2" y="3.5" width="1.7" height="1.4"/><rect x="2.5" y="6" width="2.8" height="1.4"/><rect x="2.5" y="8.5" width="2.5" height="1.4"/></g><circle cx="9.2" cy="9.2" r="2.3" fill="none" stroke="#fff" stroke-width="1.3"/><circle cx="9.2" cy="9.2" r="0.7" fill="#e6d9f0"/><path d="M7.5 10.9 L5.4 12.9" stroke="#fff" stroke-width="1.4" stroke-linecap="round"/></svg>
<span class="t" style="left:82.5px;top:77.11px;font-size:10.5px;color:#333;letter-spacing:0.059px;">demo</span>
<svg class="abs" style="left:335.2px;top:76.2px;" width="11.2" height="11.2" viewBox="0 0 11.2 11.2"><circle cx="5.6" cy="5.6" r="4.7" fill="none" stroke="#555" stroke-width="1.2"/><path d="M8.923369999999998 2.27663 L2.27663 8.923369999999998" stroke="#555" stroke-width="1.2"/></svg>
<span class="t" style="left:354.2px;top:77.53px;font-size:10px;color:#555;letter-spacing:0.489px;">2 exclusion filters</span>
<svg class="abs" style="left:80.4px;top:103.9px;" width="15.2" height="15.2" viewBox="0 0 15.2 15.2"><circle cx="7.6" cy="7.6" r="7.6" fill="#e2401c"/><circle cx="7.6" cy="7.6" r="3.8" fill="none" stroke="#fff" stroke-width="1.4"/><path d="M10.28698 4.9130199999999995 L4.9130199999999995 10.28698" stroke="#fff" stroke-width="1.4"/></svg>
<span class="t" style="left:109.5px;top:107.36px;font-size:10.5px;color:#333;letter-spacing:0.08px;">Debug Exclusion</span>
<svg class="abs" style="left:335.1px;top:107.9px;" width="6.9" height="6.9" viewBox="0 0 6 6"><path d="M0.2 0 H5.8 Q6.2 0.1 5.9 0.6 L3.8 2.9 V5.8 Q3.7 6.1 3.4 5.9 L2.3 5.1 V2.9 L0.1 0.6 Q-0.2 0.1 0.2 0 Z" fill="#666"/></svg>
<span class="t" style="left:345.6px;top:107.78px;font-size:10px;color:#555;letter-spacing:0.478px;">status:debug</span>
<div class="abs" style="left:527.6px;top:106.9px;width:23.5px;height:11.7px;background:#3395cc;border-radius:5.85px"></div>
<div class="abs" style="left:540.8px;top:108.25px;width:9px;height:9px;background:#fff;border-radius:50%"></div>
<svg class="abs" style="left:80.4px;top:134.1px;" width="15.2" height="15.2" viewBox="0 0 15.2 15.2"><circle cx="7.6" cy="7.6" r="7.6" fill="#e2401c"/><circle cx="7.6" cy="7.6" r="3.8" fill="none" stroke="#fff" stroke-width="1.4"/><path d="M10.28698 4.9130199999999995 L4.9130199999999995 10.28698" stroke="#fff" stroke-width="1.4"/></svg>
<span class="t" style="left:109.5px;top:136.56px;font-size:10.5px;color:#333;letter-spacing:0.066px;">Quick access logs (sampled)</span>
<svg class="abs" style="left:335.1px;top:138.1px;" width="6.9" height="6.9" viewBox="0 0 6 6"><path d="M0.2 0 H5.8 Q6.2 0.1 5.9 0.6 L3.8 2.9 V5.8 Q3.7 6.1 3.4 5.9 L2.3 5.1 V2.9 L0.1 0.6 Q-0.2 0.1 0.2 0 Z" fill="#666"/></svg>
<span class="t" style="left:345.6px;top:137.98px;font-size:10px;color:#555;letter-spacing:0.538px;">source:nginx @duration:&lt;100ms</span>
<div class="abs" style="left:527.6px;top:137.1px;width:23.5px;height:11.7px;background:#3395cc;border-radius:5.85px"></div>
<div class="abs" style="left:540.8px;top:138.45px;width:9px;height:9px;background:#fff;border-radius:50%"></div>
<svg class="abs" style="left:80.4px;top:164.1px;" width="15.2" height="15.2" viewBox="0 0 15.2 15.2"><circle cx="7.6" cy="7.6" r="7.1" fill="#fff" stroke="#dedede" stroke-width="1"/><path d="M7.6 3.4 V11.8 M3.4 7.6 H11.8" stroke="#2a8fd0" stroke-width="1.9" stroke-linecap="round"/></svg>
<span class="t b" style="left:109px;top:167.58px;font-size:10.3px;color:#2a8fd0;letter-spacing:0.177px;">Add an Exclusion Filter</span>
<div class="abs" style="left:13.3px;top:218px;width:545.5px;height:62px;border:1px solid #dcdcdc;border-radius:3px;background:#fff"></div>
<div class="abs" style="left:14.3px;top:219px;width:543.5px;height:30.5px;background:#f5f5f5;border-radius:2px 2px 0 0"></div>
<div class="abs" style="left:14.3px;top:249.5px;width:543.5px;height:1px;background:#e2e2e2"></div>
<div class="abs" style="left:60px;top:250.5px;width:1px;height:29px;background:#dcdcdc"></div>
<svg class="abs" style="left:24.25px;top:231px;" width="9" height="6" viewBox="0 0 9 6"><path d="M0.8 0.9 L4.5 4.7 L8.2 0.9" fill="none" stroke="#444" stroke-width="1.1"/></svg>
<span class="t b" style="left:57.4px;top:228.78px;font-size:10.3px;color:#333;transform:scaleX(0.9527);transform-origin:0 0;">ARCHIVES</span>
<span class="t b" style="left:122.5px;top:228.78px;font-size:10.3px;color:#333;letter-spacing:0.15px;">1 active</span>
<span class="t b" style="left:336.5px;top:228.78px;font-size:10.3px;color:#333;transform:scaleX(0.9445);transform-origin:0 0;">FILTERS</span>
<svg class="abs" style="left:54.4px;top:258.3px;" width="13.6" height="10.7" viewBox="0 0 13.6 10.7"><path d="M0 1.2 Q0 0 1.2 0 H4.8 L6.3 1.6 H12.4 Q13.6 1.6 13.6 2.8 V9.5 Q13.6 10.7 12.4 10.7 H1.2 Q0 10.7 0 9.5 Z" fill="#7a49a5"/></svg>
<span class="t" style="left:82.6px;top:259.11px;font-size:10.5px;color:#333;letter-spacing:0.116px;">Main Archive</span>
<svg class="abs" style="left:335.1px;top:259.9px;" width="6.9" height="6.9" viewBox="0 0 6 6"><path d="M0.2 0 H5.8 Q6.2 0.1 5.9 0.6 L3.8 2.9 V5.8 Q3.7 6.1 3.4 5.9 L2.3 5.1 V2.9 L0.1 0.6 Q-0.2 0.1 0.2 0 Z" fill="#666"/></svg>
<svg class="abs" style="left:345.6px;top:262.6px;" width="3.4" height="2.4" viewBox="0 0 3.4 2.4"><path d="M0 0 H3.4 L1.7 2.2 Z" fill="#777"/></svg>
</div>
</body>
</html>
